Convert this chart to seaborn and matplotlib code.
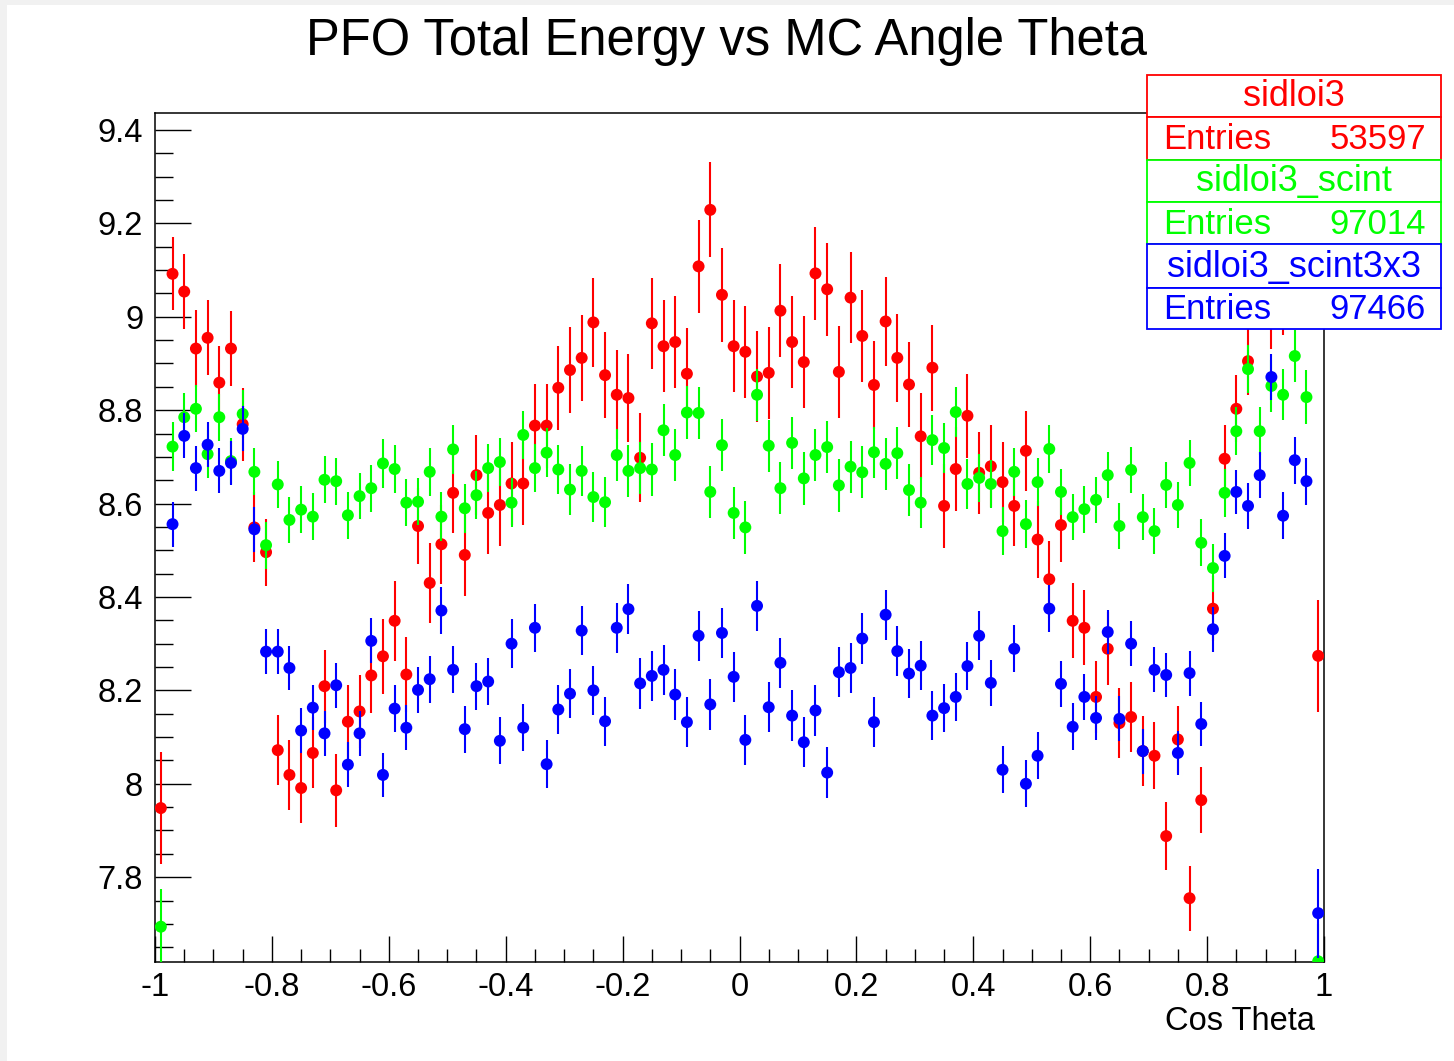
import numpy as np
import pandas as pd
import matplotlib
matplotlib.use("Agg")
import matplotlib.pyplot as plt
from matplotlib.patches import Rectangle
from matplotlib.ticker import FixedLocator, FixedFormatter, MultipleLocator
import seaborn as sns

# ---------------- data ----------------
title = "PFO Total Energy vs MC Angle Theta"
x_label = "Cos Theta"
series_names = ["sidloi3", "sidloi3_scint", "sidloi3_scint3x3"]
series_entries = ["53597", "97014", "97466"]
series_colors = ["#ff0000", "#00ff00", "#0000ff"]

n_bins = 100
cos_theta = np.round(np.linspace(-0.99, 0.99, n_bins), 3)  # bin centres

red_vals = [7.948, 9.092, 9.054, 8.932, 8.955, 8.859, 8.932, 8.770, 8.549, 8.496,
            8.072, 8.019, 7.991, 8.066, 8.209, 7.986, 8.133, 8.155, 8.232, 8.273,
            8.349, 8.234, 8.552, 8.430, 8.513, 8.623, 8.490, 8.661, 8.580, 8.597,
            8.643, 8.643, 8.767, 8.767, 8.848, 8.886, 8.912, 8.988, 8.875, 8.833,
            8.826, 8.698, 8.986, 8.937, 8.946, 8.878, 9.108, 9.229, 9.047, 8.937,
            8.925, 8.872, 8.880, 9.013, 8.946, 8.903, 9.093, 9.059, 8.882, 9.041,
            8.959, 8.854, 8.990, 8.912, 8.855, 8.744, 8.891, 8.595, 8.674, 8.788,
            8.666, 8.680, 8.646, 8.595, 8.713, 8.523, 8.438, 8.554, 8.349, 8.334,
            8.186, 8.289, 8.130, 8.143, 8.070, 8.060, 7.888, 8.095, 7.755, 7.965,
            8.375, 8.696, 8.803, 8.905, 9.080, 9.010, 9.040, 9.100, 9.070, 8.274]
red_errs = [0.120, 0.078, 0.080, 0.082, 0.080, 0.078, 0.080, 0.078, 0.075, 0.072,
            0.075, 0.075, 0.076, 0.076, 0.078, 0.078, 0.078, 0.078, 0.080, 0.080,
            0.085, 0.080, 0.082, 0.085, 0.085, 0.085, 0.088, 0.085, 0.088, 0.088,
            0.088, 0.088, 0.090, 0.090, 0.090, 0.092, 0.092, 0.095, 0.092, 0.095,
            0.095, 0.095, 0.098, 0.098, 0.098, 0.098, 0.100, 0.102, 0.100, 0.098,
            0.098, 0.098, 0.098, 0.100, 0.098, 0.098, 0.100, 0.100, 0.098, 0.098,
            0.098, 0.095, 0.095, 0.095, 0.092, 0.092, 0.092, 0.090, 0.090, 0.090,
            0.088, 0.088, 0.085, 0.085, 0.085, 0.082, 0.082, 0.080, 0.080, 0.080,
            0.078, 0.078, 0.075, 0.075, 0.075, 0.072, 0.072, 0.072, 0.070, 0.070,
            0.070, 0.072, 0.072, 0.072, 0.075, 0.078, 0.078, 0.080, 0.080, 0.120]

green_vals = [7.694, 8.722, 8.785, 8.803, 8.706, 8.785, 8.691, 8.792, 8.668, 8.511,
              8.641, 8.565, 8.587, 8.572, 8.651, 8.648, 8.575, 8.616, 8.633, 8.686,
              8.674, 8.602, 8.604, 8.668, 8.572, 8.716, 8.590, 8.618, 8.676, 8.689,
              8.602, 8.747, 8.676, 8.709, 8.673, 8.630, 8.670, 8.614, 8.603, 8.704,
              8.670, 8.676, 8.673, 8.757, 8.704, 8.795, 8.794, 8.625, 8.725, 8.580,
              8.549, 8.833, 8.724, 8.633, 8.730, 8.654, 8.704, 8.721, 8.639, 8.679,
              8.667, 8.710, 8.685, 8.708, 8.629, 8.602, 8.736, 8.719, 8.796, 8.642,
              8.655, 8.642, 8.541, 8.668, 8.556, 8.646, 8.717, 8.625, 8.571, 8.588,
              8.608, 8.661, 8.552, 8.672, 8.571, 8.541, 8.640, 8.597, 8.687, 8.516,
              8.462, 8.623, 8.755, 8.888, 8.755, 8.852, 8.833, 8.916, 8.828, 7.620]
green_errs = [0.080, 0.052, 0.052, 0.050, 0.052, 0.050, 0.050, 0.052, 0.050, 0.050,
              0.050, 0.050, 0.050, 0.050, 0.050, 0.050, 0.050, 0.050, 0.050, 0.052,
              0.052, 0.050, 0.050, 0.052, 0.052, 0.052, 0.052, 0.052, 0.052, 0.052,
              0.052, 0.052, 0.052, 0.052, 0.052, 0.054, 0.054, 0.054, 0.054, 0.056,
              0.056, 0.056, 0.056, 0.056, 0.056, 0.056, 0.056, 0.056, 0.056, 0.056,
              0.056, 0.056, 0.056, 0.056, 0.056, 0.056, 0.056, 0.056, 0.056, 0.056,
              0.056, 0.055, 0.055, 0.055, 0.055, 0.055, 0.054, 0.054, 0.054, 0.054,
              0.052, 0.052, 0.052, 0.052, 0.052, 0.052, 0.052, 0.050, 0.050, 0.050,
              0.050, 0.050, 0.050, 0.050, 0.050, 0.050, 0.050, 0.050, 0.050, 0.050,
              0.052, 0.052, 0.052, 0.052, 0.052, 0.055, 0.055, 0.055, 0.058, 0.080]

blue_vals = [np.nan, 8.556, 8.745, 8.676, 8.726, 8.670, 8.687, 8.760, 8.545, 8.283,
             8.283, 8.248, 8.114, 8.163, 8.108, 8.211, 8.041, 8.108, 8.306, 8.019,
             8.161, 8.120, 8.201, 8.224, 8.371, 8.244, 8.117, 8.209, 8.219, 8.092,
             8.300, 8.120, 8.334, 8.042, 8.159, 8.193, 8.328, 8.200, 8.134, 8.334,
             8.374, 8.215, 8.231, 8.244, 8.191, 8.132, 8.317, 8.170, 8.323, 8.229,
             8.094, 8.381, 8.164, 8.259, 8.146, 8.089, 8.157, 8.024, 8.239, 8.248,
             8.311, 8.132, 8.362, 8.284, 8.236, 8.253, 8.146, 8.162, 8.186, 8.252,
             8.317, 8.216, 8.030, 8.289, 8.000, 8.060, 8.375, 8.214, 8.122, 8.186,
             8.141, 8.325, 8.139, 8.300, 8.070, 8.244, 8.233, 8.066, 8.237, 8.128,
             8.331, 8.488, 8.625, 8.595, 8.661, 8.871, 8.574, 8.693, 8.648, 7.723]
blue_errs = [0.080, 0.048, 0.048, 0.048, 0.048, 0.048, 0.048, 0.048, 0.048, 0.048,
             0.048, 0.048, 0.048, 0.048, 0.048, 0.048, 0.048, 0.048, 0.048, 0.048,
             0.050, 0.048, 0.050, 0.050, 0.050, 0.050, 0.050, 0.050, 0.050, 0.050,
             0.052, 0.050, 0.052, 0.052, 0.052, 0.052, 0.052, 0.052, 0.052, 0.054,
             0.054, 0.054, 0.054, 0.054, 0.054, 0.054, 0.054, 0.054, 0.054, 0.054,
             0.054, 0.054, 0.054, 0.054, 0.054, 0.054, 0.054, 0.054, 0.054, 0.054,
             0.054, 0.054, 0.054, 0.054, 0.052, 0.052, 0.052, 0.052, 0.052, 0.052,
             0.052, 0.050, 0.050, 0.050, 0.050, 0.050, 0.050, 0.050, 0.050, 0.050,
             0.048, 0.048, 0.048, 0.048, 0.048, 0.048, 0.048, 0.048, 0.048, 0.048,
             0.048, 0.048, 0.048, 0.050, 0.050, 0.050, 0.050, 0.050, 0.050, 0.095]

x_ticks = [-1, -0.8, -0.6, -0.4, -0.2, 0, 0.2, 0.4, 0.6, 0.8, 1]
x_tick_labels = ["-1", "-0.8", "-0.6", "-0.4", "-0.2", "0", "0.2", "0.4", "0.6", "0.8", "1"]
y_ticks = [7.8, 8.0, 8.2, 8.4, 8.6, 8.8, 9.0, 9.2, 9.4]
y_tick_labels = ["7.8", "8", "8.2", "8.4", "8.6", "8.8", "9", "9.2", "9.4"]

# ---------------- styling ----------------
sns.set_theme(style="ticks")
plt.rcParams["font.family"] = ["Liberation Sans", "DejaVu Sans"]
plt.rcParams["axes.unicode_minus"] = False

W, H = 1454, 1061
fig = plt.figure(figsize=(W / 100, H / 100), dpi=100)
fig.patch.set_facecolor("white")

# faint grey window edge (left and top)
fig.add_artist(Rectangle((0, 0), 7 / W, 1, transform=fig.transFigure,
                         facecolor="#f1f1f1", edgecolor="none", zorder=-5))
fig.add_artist(Rectangle((0, 1 - 5 / H), 1, 5 / H, transform=fig.transFigure,
                         facecolor="#f1f1f1", edgecolor="none", zorder=-5))

L, R, T, B = 155, 1324, 113, 962
ax = fig.add_axes([L / W, 1 - B / H, (R - L) / W, (B - T) / H])
ax.set_facecolor("white")

frames = []
for name, vals, errs in zip(series_names, [red_vals, green_vals, blue_vals],
                            [red_errs, green_errs, blue_errs]):
    frames.append(pd.DataFrame({"cos": cos_theta, "E": vals, "err": errs, "series": name}))
df = pd.concat(frames, ignore_index=True)

for k, (name, col) in enumerate(zip(series_names, series_colors)):
    d = df[df["series"] == name]
    ax.errorbar(d["cos"], d["E"], yerr=d["err"], fmt="none", ecolor=col,
                elinewidth=1.5, capsize=0, zorder=3 + 2 * k)
    sns.scatterplot(data=d, x="cos", y="E", color=col, s=74, marker="o",
                    edgecolor="none", linewidth=0, ax=ax, zorder=4 + 2 * k,
                    legend=False)

ax.set_xlim(-1, 1)
ax.set_ylim(7.6184, 9.4364)
ax.set_xlabel("")
ax.set_ylabel("")

ax.xaxis.set_major_locator(FixedLocator(x_ticks))
ax.xaxis.set_major_formatter(FixedFormatter(x_tick_labels))
ax.xaxis.set_minor_locator(MultipleLocator(0.05))
ax.yaxis.set_major_locator(FixedLocator(y_ticks))
ax.yaxis.set_major_formatter(FixedFormatter(y_tick_labels))
ax.yaxis.set_minor_locator(MultipleLocator(0.05))

ax.tick_params(axis="both", which="both", direction="in", colors="black",
               top=False, right=False, labelsize=23.5, width=1.0)
ax.tick_params(axis="x", which="major", length=18.5, pad=7)
ax.tick_params(axis="x", which="minor", length=9.4)
ax.tick_params(axis="y", which="major", length=26, pad=8.5)
ax.tick_params(axis="y", which="minor", length=13)
for sp in ax.spines.values():
    sp.set_color("black")
    sp.set_linewidth(1.1)
    sp.set_visible(True)

# title and axis title
fig.text(727 / W, 1 - 42 / H, title, ha="center", va="center", fontsize=36.5, color="black")
fig.text(1315 / W, 1 - 1022 / H, x_label, ha="right", va="center", fontsize=23.5, color="black")

# stats boxes
bx0, bx1 = 1147, 1441
rows = [75, 117, 160, 202, 244, 288, 329]
for i, (name, ent, col) in enumerate(zip(series_names, series_entries, series_colors)):
    for j in range(2):
        top = rows[2 * i + j]
        bot = rows[2 * i + j + 1]
        rect = Rectangle((bx0 / W, 1 - bot / H), (bx1 - bx0) / W, (bot - top) / H,
                         transform=fig.transFigure, facecolor="white",
                         edgecolor=col, linewidth=1.3, zorder=10)
        fig.add_artist(rect)
        yc = 1 - ((top + bot) / 2 + 1) / H
        if j == 0:
            fig.text((bx0 + bx1) / 2 / W, yc, name, ha="center", va="center",
                     fontsize=26, color=col, zorder=11)
        else:
            fig.text(1163 / W, yc, "Entries", ha="left", va="center",
                     fontsize=25, color=col, zorder=11)
            fig.text(1426 / W, yc, ent, ha="right", va="center",
                     fontsize=25, color=col, zorder=11)

fig.savefig("out.png", dpi=100, facecolor="white")
